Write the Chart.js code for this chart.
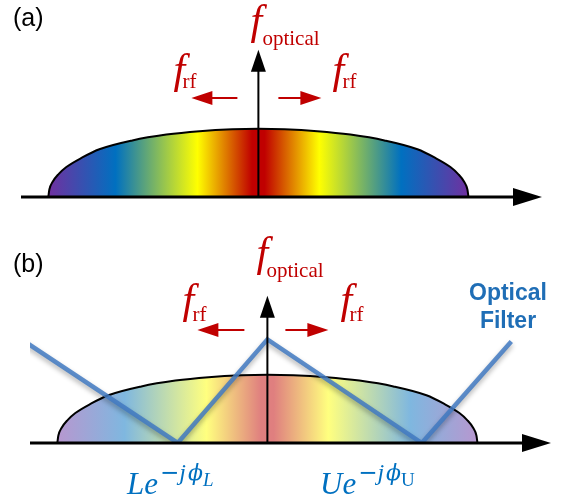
<!DOCTYPE html>
<html>
<head>
<meta charset="utf-8">
<script src="https://cdn.jsdelivr.net/npm/chart.js@4.4.0/dist/chart.umd.min.js"></script>
<style>
  html, body { margin: 0; padding: 0; background: #fff; }
  #wrap { position: relative; width: 562px; height: 501px; }
  canvas { display: block; position: absolute; left: 0; }
  #panelA { top: 0; }
  #panelB { top: 220px; }
</style>
</head>
<body>
<div id="wrap">
<canvas id="panelA" width="562" height="250"></canvas>
<canvas id="panelB" width="562" height="281"></canvas>
</div>
<script>
// modulated spectrum envelope, frequency normalised to the sideband half-width (0 = carrier)
const domeFreq = [-1, -0.995, -0.98, -0.95, -0.914, -0.838, -0.757, -0.6, -0.438, -0.28, -0.124, 0,
                  0.124, 0.28, 0.438, 0.6, 0.757, 0.838, 0.914, 0.95, 0.98, 0.995, 1];
const domeAmp  = [0, 0.11, 0.22, 0.34, 0.44, 0.58, 0.70, 0.83, 0.915, 0.965, 0.993, 1,
                  0.993, 0.965, 0.915, 0.83, 0.70, 0.58, 0.44, 0.34, 0.22, 0.11, 0];

// optical filter response drawn in panel (b)
const filterFreq = [-1.161, -0.427, 0, 0.735, 1.161];
const filterAmp  = [1.5, 0, 1.52, 0, 1.49];

const freqRange = [-1.13, 1.35];
const ampRange = [0, 2.2];
const axisTip = 2.16;

// rainbow across the spectrum (position, colour)
const rainbowStops = [[0, '#7030a0'], [0.16, '#0070c0'], [0.355, '#ffff00'], [0.485, '#c00000'],
                      [0.515, '#c00000'], [0.645, '#ffff00'], [0.84, '#0070c0'], [1, '#7030a0']];

const red = '#c00000';
const blue = '#0070c0';

function withAlpha(hex, a) {
  const n = parseInt(hex.slice(1), 16);
  return `rgba(${(n >> 16) & 255}, ${(n >> 8) & 255}, ${n & 255}, ${a})`;
}

function rainbowFill(alpha) {
  return (context) => {
    const chart = context.chart;
    if (!chart.chartArea) return null;
    const x0 = chart.scales.x.getPixelForValue(-1);
    const x1 = chart.scales.x.getPixelForValue(1);
    const g = chart.ctx.createLinearGradient(x0, 0, x1, 0);
    rainbowStops.forEach(([t, c]) => g.addColorStop(t, withAlpha(c, alpha)));
    return g;
  };
}

function arrowHead(ctx, tipX, tipY, dirX, dirY, len, half) {
  const bx = tipX - dirX * len, by = tipY - dirY * len;
  ctx.beginPath();
  ctx.moveTo(tipX, tipY);
  ctx.lineTo(bx - dirY * half, by + dirX * half);
  ctx.lineTo(bx + dirY * half, by - dirX * half);
  ctx.closePath();
  ctx.fill();
}

function redArrow(ctx, fromX, toX, y) {
  const dir = Math.sign(toX - fromX);
  ctx.strokeStyle = red;
  ctx.fillStyle = red;
  ctx.lineWidth = 2;
  ctx.beginPath();
  ctx.moveTo(fromX, y);
  ctx.lineTo(toX - dir * 18, y);
  ctx.stroke();
  arrowHead(ctx, toX, y, dir, 0, 21, 7);
}

// f with a subscript, f placed by its ink left edge
function fSub(ctx, inkX, fBase, sub, subX, subBase) {
  ctx.fillStyle = red;
  ctx.font = 'italic 42px "Liberation Serif", "Times New Roman", serif';
  ctx.fillText('f', inkX + 6, fBase);
  ctx.font = '21px "Liberation Serif", "Times New Roman", serif';
  ctx.fillText(sub, subX, subBase);
}

function mathLabel(ctx, x, base, main, mainSub, subItalic) {
  ctx.fillStyle = blue;
  ctx.font = 'italic 31px "Liberation Serif", "DejaVu Serif", serif';
  ctx.fillText(main + 'e', x, base);
  x += ctx.measureText(main + 'e').width + 2;
  ctx.font = '23px "DejaVu Sans", sans-serif';
  ctx.fillText('\u2212', x, base - 14);
  x += ctx.measureText('\u2212').width;
  ctx.font = 'italic 24px "Liberation Serif", "DejaVu Serif", serif';
  ctx.fillText('j', x, base - 14);
  x += ctx.measureText('j').width + 2;
  ctx.font = 'italic 22px "DejaVu Serif", serif';
  ctx.fillText('\u03d5', x, base - 14);
  x += ctx.measureText('\u03d5').width;
  ctx.font = (subItalic ? 'italic ' : '') + '19px "Liberation Serif", "DejaVu Serif", serif';
  ctx.fillText(mainSub, x, base - 8);
}

const axesPlugin = {
  id: 'axesArrows',
  afterDatasetsDraw(chart) {
    const { ctx, scales: { x, y } } = chart;
    const left = x.getPixelForValue(freqRange[0]);
    const tip = x.getPixelForValue(freqRange[1]);
    const oy = y.getPixelForValue(0);
    const ox = x.getPixelForValue(0);
    const top = y.getPixelForValue(axisTip);
    ctx.save();
    ctx.strokeStyle = '#000';
    ctx.fillStyle = '#000';
    ctx.lineWidth = 3;
    ctx.beginPath();
    ctx.moveTo(left, oy);
    ctx.lineTo(tip - 20, oy);
    ctx.stroke();
    arrowHead(ctx, tip, oy, 1, 0, 29, 9);
    ctx.lineWidth = 2;
    ctx.beginPath();
    ctx.moveTo(ox, oy);
    ctx.lineTo(ox, top + 15);
    ctx.stroke();
    arrowHead(ctx, ox, top, 0, -1, 22, 7.5);
    ctx.restore();
  }
};

const shadowPlugin = {
  id: 'filterShadow',
  beforeDatasetDraw(chart, args) {
    if (chart.data.datasets[args.index].label !== 'Optical Filter') return;
    chart.ctx.save();
    chart.ctx.shadowColor = 'rgba(0,0,0,0.35)';
    chart.ctx.shadowBlur = 5;
    chart.ctx.shadowOffsetY = 3;
  },
  afterDatasetDraw(chart, args) {
    if (chart.data.datasets[args.index].label !== 'Optical Filter') return;
    chart.ctx.restore();
  }
};

const textA = {
  id: 'textA',
  afterDraw(chart) {
    const ctx = chart.ctx;
    const ox = chart.scales.x.getPixelForValue(0);
    ctx.save();
    ctx.fillStyle = '#000';
    ctx.font = '25px "Liberation Sans", Arial, sans-serif';
    ctx.fillText('(a)', 13, 26);
    fSub(ctx, ox - 14, 34, 'optical', ox + 4, 45);
    fSub(ctx, ox - 91, 83, 'rf', ox - 76, 88);
    fSub(ctx, ox + 68, 83, 'rf', ox + 84, 88);
    redArrow(ctx, ox - 21, ox - 67, 98);
    redArrow(ctx, ox + 20, ox + 63, 98);
    ctx.restore();
  }
};

const textB = {
  id: 'textB',
  afterDraw(chart) {
    const ctx = chart.ctx;
    const ox = chart.scales.x.getPixelForValue(0);
    const dy = -220;
    ctx.save();
    ctx.fillStyle = '#000';
    ctx.font = '25px "Liberation Sans", Arial, sans-serif';
    ctx.fillText('(b)', 13, 272 + dy);
    fSub(ctx, ox - 17, 266 + dy, 'optical', ox - 1, 277 + dy);
    fSub(ctx, ox - 91, 313 + dy, 'rf', ox - 75, 321 + dy);
    fSub(ctx, ox + 67, 313 + dy, 'rf', ox + 82, 321 + dy);
    redArrow(ctx, ox - 23, ox - 70, 330 + dy);
    redArrow(ctx, ox + 18, ox + 61, 330 + dy);
    ctx.fillStyle = '#1f6eb6';
    ctx.font = 'bold 23px "Liberation Sans", Arial, sans-serif';
    ctx.textAlign = 'center';
    ctx.fillText('Optical', 508, 300 + dy);
    ctx.fillText('Filter', 508, 328 + dy);
    ctx.textAlign = 'left';
    mathLabel(ctx, 127, 494 + dy, 'L', 'L', true);
    mathLabel(ctx, 320, 494 + dy, 'U', 'U', false);
    ctx.restore();
  }
};

function panelOptions(padding) {
  return {
    responsive: false,
    animation: false,
    events: [],
    layout: { padding },
    plugins: { legend: { display: false }, tooltip: { enabled: false } },
    scales: {
      x: { type: 'linear', min: freqRange[0], max: freqRange[1], display: false },
      y: { type: 'linear', min: ampRange[0], max: ampRange[1], display: false }
    }
  };
}

const domePoints = domeFreq.map((f, i) => ({ x: f, y: domeAmp[i] }));
const filterPoints = filterFreq.map((f, i) => ({ x: f, y: filterAmp[i] }));

new Chart(document.getElementById('panelA'), {
  type: 'line',
  data: {
    datasets: [{
      label: 'Spectrum',
      data: domePoints,
      fill: 'origin',
      backgroundColor: rainbowFill(1),
      borderColor: '#000',
      borderWidth: 2,
      pointRadius: 0,
      cubicInterpolationMode: 'monotone'
    }]
  },
  options: panelOptions({ left: 21, right: 20, top: 47, bottom: 53 }),
  plugins: [axesPlugin, textA]
});

new Chart(document.getElementById('panelB'), {
  type: 'line',
  data: {
    datasets: [{
      label: 'Optical Filter',
      data: filterPoints,
      fill: false,
      borderColor: 'rgba(66, 122, 194, 0.85)',
      borderWidth: 4.5,
      pointRadius: 0,
      tension: 0
    }, {
      label: 'Spectrum',
      data: domePoints,
      fill: 'origin',
      backgroundColor: rainbowFill(0.5),
      borderColor: '#000',
      borderWidth: 2,
      pointRadius: 0,
      cubicInterpolationMode: 'monotone'
    }]
  },
  options: panelOptions({ left: 30, right: 11, top: 73, bottom: 58 }),
  plugins: [shadowPlugin, axesPlugin, textB]
});
</script>
</body>
</html>
